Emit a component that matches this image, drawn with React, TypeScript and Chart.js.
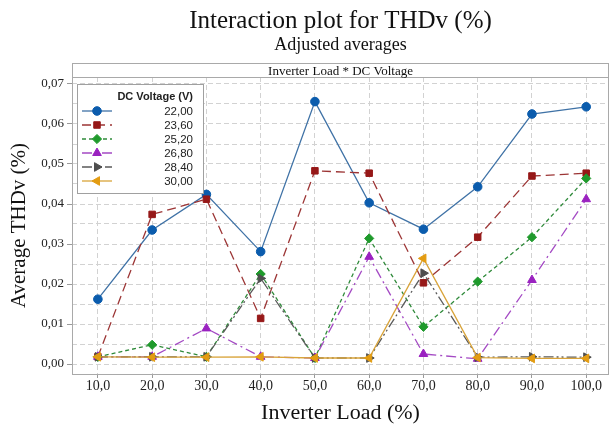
import React, { useEffect, useRef } from 'react';
import { Chart, registerables } from 'chart.js';

Chart.register(...registerables);

const loads = [10, 20, 30, 40, 50, 60, 70, 80, 90, 100];
const voltageLabels = ['22,00', '23,60', '25,20', '26,80', '28,40', '30,00'];
const v2200 = [0.0162, 0.0335, 0.0424, 0.0281, 0.0656, 0.0403, 0.0337, 0.0443, 0.0625, 0.0643];
const v2360 = [0.0018, 0.0374, 0.0412, 0.0114, 0.0483, 0.0477, 0.0203, 0.0317, 0.047, 0.0477];
const v2520 = [0.0018, 0.0048, 0.0018, 0.0225, 0.0015, 0.0314, 0.0093, 0.0206, 0.0317, 0.0464];
const v2680 = [0.0018, 0.0018, 0.0089, 0.0018, 0.0015, 0.0268, 0.0025, 0.0013, 0.021, 0.0412];
const v2840 = [0.0018, 0.0018, 0.0018, 0.0214, 0.0015, 0.0015, 0.0227, 0.0017, 0.0018, 0.0017];
const v3000 = [0.0018, 0.0017, 0.0017, 0.0018, 0.0015, 0.0015, 0.0264, 0.0016, 0.0014, 0.0014];
const yTicks = [0, 0.005, 0.01, 0.015, 0.02, 0.025, 0.03, 0.035, 0.04, 0.045, 0.05, 0.055, 0.06, 0.065, 0.07];

const TITLE = 'Interaction plot for THDv (%)';
const SUBTITLE = 'Adjusted averages';
const STRIP = 'Inverter Load * DC Voltage';
const LEGEND_TITLE = 'DC Voltage (V)';

const SERIF = "'Liberation Serif', 'Times New Roman', serif";
const SANS = "'Liberation Sans', Arial, sans-serif";

const styles = [
  { line: '#3f72a6', point: '#0b5cad', dash: [], shape: 'circle', rot: 0, r: 4.3 },
  { line: '#9c3535', point: '#961818', dash: [9, 5], shape: 'rect', rot: 0, r: 4.6 },
  { line: '#2f8a3a', point: '#1f9a2c', dash: [4, 3], shape: 'rectRot', rot: 0, r: 4.6 },
  { line: '#a44ac4', point: '#9a22c0', dash: [10, 4, 2, 4], shape: 'triangle', rot: 0, r: 5 },
  { line: '#5a5a5a', point: '#4e4e4e', dash: [10, 3, 2, 3, 2, 3], shape: 'triangle', rot: 90, r: 5 },
  { line: '#d9a43a', point: '#e39c12', dash: [], shape: 'triangle', rot: -90, r: 5 },
];
const seriesValues = [v2200, v2360, v2520, v2680, v2840, v3000];
const drawOrder = [5, 4, 3, 2, 1, 0];

function drawMarker(ctx: CanvasRenderingContext2D, shape: string, rot: number, r: number, x: number, y: number, color: string) {
  ctx.save();
  ctx.fillStyle = color;
  ctx.strokeStyle = color;
  ctx.lineWidth = 1;
  ctx.setLineDash([]);
  ctx.beginPath();
  if (shape === 'circle') {
    ctx.arc(x, y, r, 0, Math.PI * 2);
  } else if (shape === 'rect') {
    const s = r * Math.SQRT1_2;
    ctx.rect(x - s, y - s, 2 * s, 2 * s);
  } else if (shape === 'rectRot') {
    ctx.moveTo(x, y - r);
    ctx.lineTo(x + r, y);
    ctx.lineTo(x, y + r);
    ctx.lineTo(x - r, y);
    ctx.closePath();
  } else {
    let rad = (rot * Math.PI) / 180;
    ctx.moveTo(x + Math.sin(rad) * r, y - Math.cos(rad) * r);
    rad += (2 * Math.PI) / 3;
    ctx.lineTo(x + Math.sin(rad) * r, y - Math.cos(rad) * r);
    rad += (2 * Math.PI) / 3;
    ctx.lineTo(x + Math.sin(rad) * r, y - Math.cos(rad) * r);
    ctx.closePath();
  }
  ctx.fill();
  ctx.stroke();
  ctx.restore();
}

const decorPlugin = {
  id: 'decor',
  beforeDraw(chart: any) {
    const { ctx, width, height } = chart;
    ctx.save();
    ctx.fillStyle = '#ffffff';
    ctx.fillRect(0, 0, width, height);
    ctx.restore();
  },
  afterDraw(chart: any) {
    const { ctx, chartArea: a } = chart;
    const cx = (a.left + a.right) / 2;
    ctx.save();
    ctx.fillStyle = '#111111';
    ctx.textAlign = 'center';
    ctx.textBaseline = 'alphabetic';
    ctx.font = `25px ${SERIF}`;
    ctx.fillText(TITLE, cx, 28);
    ctx.font = `18px ${SERIF}`;
    ctx.fillText(SUBTITLE, cx, 50);

    // frame + strip
    const stripTop = a.top - 14;
    ctx.strokeStyle = '#a9a9a9';
    ctx.lineWidth = 1;
    ctx.setLineDash([]);
    ctx.strokeRect(Math.round(a.left) + 0.5, stripTop + 0.5, Math.round(a.right - a.left) - 1, Math.round(a.bottom - stripTop));
    ctx.beginPath();
    ctx.moveTo(a.left, Math.round(a.top) + 0.5);
    ctx.lineTo(a.right, Math.round(a.top) + 0.5);
    ctx.stroke();
    ctx.fillStyle = '#111111';
    ctx.font = `13px ${SERIF}`;
    ctx.fillText(STRIP, cx, a.top - 2);

    // legend
    const lx = Math.round(a.left) + 5;
    const ly = Math.round(a.top) + 7;
    const lw = 126;
    const lh = 109;
    ctx.fillStyle = '#ffffff';
    ctx.fillRect(lx, ly, lw, lh);
    ctx.strokeStyle = '#a0a0a0';
    ctx.strokeRect(lx + 0.5, ly + 0.5, lw, lh);
    ctx.fillStyle = '#222222';
    ctx.textAlign = 'right';
    ctx.textBaseline = 'middle';
    ctx.font = `bold 11px ${SANS}`;
    ctx.fillText(LEGEND_TITLE, lx + lw - 10, ly + 13);
    ctx.font = `11.5px ${SANS}`;
    chart.data.datasets.forEach((ds: any, i: number) => {
      const st = styles[i];
      const y = ly + 27 + i * 14;
      ctx.save();
      ctx.strokeStyle = st.line;
      ctx.lineWidth = 1.3;
      ctx.setLineDash(st.dash);
      ctx.beginPath();
      ctx.moveTo(lx + 5, y);
      ctx.lineTo(lx + 35, y);
      ctx.stroke();
      ctx.restore();
      drawMarker(ctx, st.shape, st.rot, st.r, lx + 20, y, st.point);
      ctx.fillStyle = '#222222';
      ctx.fillText(ds.label, lx + lw - 10, y + 0.5);
    });
    ctx.restore();
  },
};

export default function App() {
  const ref = useRef<HTMLCanvasElement | null>(null);
  useEffect(() => {
    if (!ref.current) return;
    const datasets = voltageLabels.map((label, i) => ({
      label,
      data: loads.map((x, j) => ({ x, y: seriesValues[i][j] })),
      borderColor: styles[i].line,
      backgroundColor: styles[i].point,
      borderDash: styles[i].dash,
      borderWidth: 1.3,
      pointStyle: styles[i].shape,
      pointRotation: styles[i].rot,
      pointRadius: styles[i].r,
      pointBackgroundColor: styles[i].point,
      pointBorderColor: styles[i].point,
      pointBorderWidth: 1,
      tension: 0,
      order: drawOrder[i],
    }));
    const chart = new Chart(ref.current, {
      type: 'line',
      data: { datasets },
      options: {
        animation: false,
        responsive: true,
        maintainAspectRatio: false,
        layout: { padding: { top: 77, left: 0, right: 3, bottom: 0 } },
        plugins: { legend: { display: false }, title: { display: false }, tooltip: { enabled: false } },
        scales: {
          x: {
            type: 'linear',
            min: 5.23,
            max: 104.2,
            afterBuildTicks: (scale: any) => {
              scale.ticks = loads.map((v) => ({ value: v }));
            },
            afterFit: (scale: any) => {
              scale.height = 54;
            },
            ticks: {
              autoSkip: false,
              maxRotation: 0,
              padding: 0,
              color: '#222222',
              font: { family: SERIF, size: 14 },
              callback: (v: any) => Number(v).toFixed(1).replace('.', ','),
            },
            grid: { color: '#d2d2d2', lineWidth: 1, tickLength: 4, tickColor: '#9a9a9a', tickBorderDash: [] },
            border: { display: false, dash: [5, 3] },
            title: {
              display: true,
              text: 'Inverter Load (%)',
              color: '#111111',
              font: { family: SERIF, size: 22 },
              padding: { top: 0, bottom: 2 },
            },
          },
          y: {
            type: 'linear',
            min: -0.0025,
            max: 0.07175,
            afterBuildTicks: (scale: any) => {
              scale.ticks = yTicks.map((v) => ({ value: v }));
            },
            afterFit: (scale: any) => {
              scale.width = 72;
            },
            ticks: {
              autoSkip: false,
              padding: 3,
              color: '#222222',
              font: { family: SERIF, size: 13 },
              callback: (v: any) => {
                const n = Number(v);
                return Math.abs(n * 100 - Math.round(n * 100)) < 1e-6 ? n.toFixed(2).replace('.', ',') : '';
              },
            },
            grid: {
              color: '#d2d2d2',
              lineWidth: 1,
              tickLength: 5,
              tickBorderDash: [],
              tickColor: (c: any) => {
                const n = c.tick ? c.tick.value : 0;
                return Math.abs(n * 100 - Math.round(n * 100)) < 1e-6 ? '#9a9a9a' : 'rgba(0,0,0,0)';
              },
            },
            border: { display: false, dash: [5, 3] },
            title: {
              display: true,
              text: 'Average THDv (%)',
              color: '#111111',
              font: { family: SERIF, size: 21 },
              padding: { top: 7, bottom: 0 },
            },
          },
        },
      } as any,
      plugins: [decorPlugin],
    });
    return () => chart.destroy();
  }, []);
  return (
    <div style={{ position: 'fixed', left: 0, top: 0, width: 615, height: 428 }}>
      <canvas ref={ref} />
    </div>
  );
}
